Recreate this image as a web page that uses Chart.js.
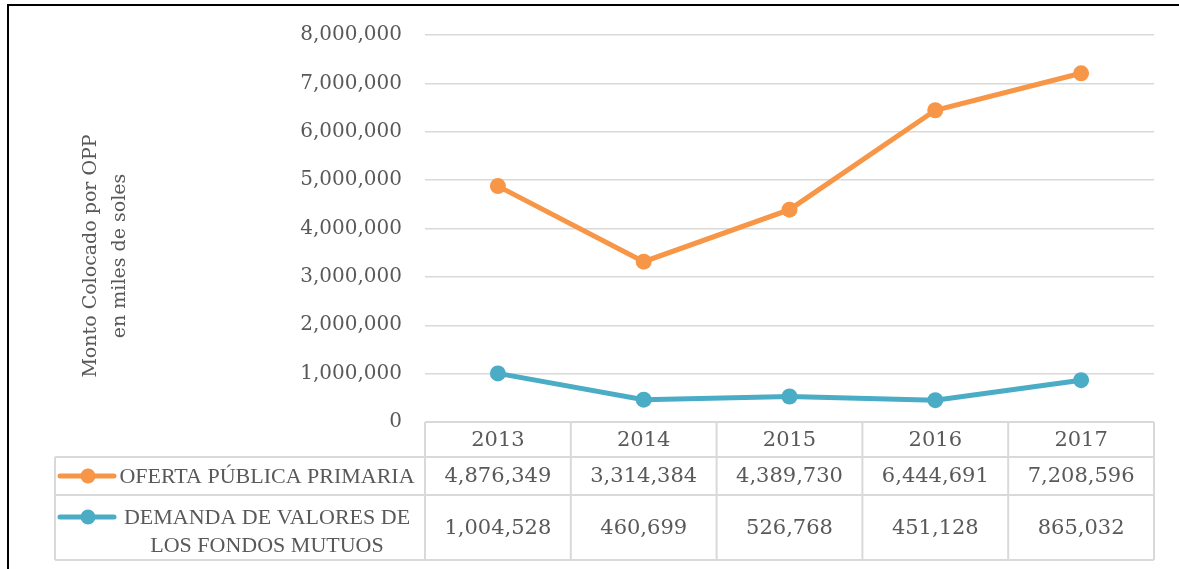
<!DOCTYPE html>
<html>
<head>
<meta charset="utf-8">
<script src="https://cdn.jsdelivr.net/npm/chart.js@4.4.1/dist/chart.umd.min.js"></script>
<style>
  html, body { margin: 0; padding: 0; background: #fff; }
  #wrap { position: relative; width: 1179px; height: 569px; overflow: hidden; }
  #wrap canvas { position: absolute; left: 0; top: 0; }
  #frame { position: absolute; left: 7px; top: 4px; width: 1200px; height: 600px;
           border-left: 2px solid #000; border-top: 2px solid #000; pointer-events: none; }
</style>
</head>
<body>
<div id="wrap">
  <canvas id="chart" width="1179" height="569"></canvas>
  <div id="frame"></div>
</div>
<script>
// Años y montos colocados (miles de soles)
const years = ['2013', '2014', '2015', '2016', '2017'];
const ofertaPublica = [4876349, 3314384, 4389730, 6444691, 7208596];
const demandaFondos = [1004528, 460699, 526768, 451128, 865032];
const seriesLabels = [['OFERTA PÚBLICA PRIMARIA'], ['DEMANDA DE VALORES DE', 'LOS FONDOS MUTUOS']];
const seriesColors = ['#F79646', '#4BACC6'];
const axisTitle = ['Monto Colocado por OPP', 'en miles de soles'];
const yMin = 0, yMax = 8000000, yStep = 1000000;

const textColor = '#595959';
const fmt = v => Number(v).toLocaleString('en-US');

// Vertical axis title, two centred lines
const axisTitlePlugin = {
  id: 'axisTitleLines',
  afterDraw(chart) {
    const ctx = chart.ctx;
    ctx.save();
    ctx.fillStyle = textColor;
    ctx.font = '19px "DejaVu Serif"';
    ctx.textAlign = 'center';
    ctx.textBaseline = 'middle';
    axisTitle.forEach((t, i) => {
      ctx.save();
      ctx.translate(91 + i * 29, 256);
      ctx.rotate(-Math.PI / 2);
      ctx.fillText(t, 0, 0);
      ctx.restore();
    });
    ctx.restore();
  }
};

// Data table under the plot: header with years, one row per series
const dataTablePlugin = {
  id: 'dataTable',
  afterDraw(chart) {
    const { ctx, chartArea: a, scales: { x } } = chart;
    const half = (x.getPixelForValue(1) - x.getPixelForValue(0)) / 2;
    const top = a.bottom, r1 = top + 35, r2 = top + 73, bot = top + 138;
    const labelLeft = 55;
    const line = (x1, y1, x2, y2) => { ctx.beginPath(); ctx.moveTo(x1, y1); ctx.lineTo(x2, y2); ctx.stroke(); };

    ctx.save();
    ctx.strokeStyle = '#d9d9d9';
    ctx.lineWidth = 2;
    line(a.left, top, a.right, top);
    line(labelLeft, r1, a.right, r1);
    line(labelLeft, r2, a.right, r2);
    line(labelLeft, bot, a.right, bot);
    line(labelLeft, r1, labelLeft, bot);
    years.forEach((_, i) => {
      const e = x.getPixelForValue(i) - half;
      line(e, top, e, bot);
    });
    line(a.right, top, a.right, bot);

    ctx.fillStyle = textColor;
    ctx.textAlign = 'center';
    ctx.textBaseline = 'middle';
    ctx.font = '21px "DejaVu Serif"';
    const rows = [ofertaPublica, demandaFondos];
    const rowMid = [(r1 + r2) / 2, (r2 + bot) / 2];
    years.forEach((yr, i) => {
      const cx = x.getPixelForValue(i);
      ctx.fillText(yr, cx, (top + r1) / 2 + 1);
      rows.forEach((vals, k) => ctx.fillText(fmt(vals[i]), cx, rowMid[k] + 1));
    });

    // Row labels with legend keys
    ctx.font = '22px "Liberation Serif"';
    const labelY = [[rowMid[0]], [r2 + 22, r2 + 50]];
    seriesLabels.forEach((lines, k) => {
      const ky = labelY[k][0];
      ctx.strokeStyle = seriesColors[k];
      ctx.lineWidth = 5;
      ctx.lineCap = 'round';
      line(60, ky, 114, ky);
      ctx.fillStyle = seriesColors[k];
      ctx.beginPath(); ctx.arc(88, ky, 7.5, 0, Math.PI * 2); ctx.fill();
      ctx.fillStyle = textColor;
      lines.forEach((t, j) => ctx.fillText(t, 267, labelY[k][j] + 1));
    });
    ctx.restore();
  }
};

new Chart(document.getElementById('chart'), {
  type: 'line',
  data: {
    labels: years,
    datasets: [
      { label: seriesLabels[0].join(' '), data: ofertaPublica, borderColor: seriesColors[0],
        backgroundColor: seriesColors[0], borderWidth: 5, pointRadius: 8, pointBorderWidth: 0,
        tension: 0 },
      { label: seriesLabels[1].join(' '), data: demandaFondos, borderColor: seriesColors[1],
        backgroundColor: seriesColors[1], borderWidth: 5, pointRadius: 8, pointBorderWidth: 0,
        tension: 0 }
    ]
  },
  options: {
    responsive: false,
    animation: false,
    layout: { padding: { top: 35, right: 25, bottom: 147, left: 0 } },
    plugins: { legend: { display: false }, tooltip: { enabled: false } },
    scales: {
      x: { type: 'category', offset: true, display: false },
      y: {
        min: yMin, max: yMax,
        ticks: { stepSize: yStep, padding: 23, color: textColor,
                 font: { family: 'DejaVu Serif', size: 20 }, callback: v => fmt(v) },
        grid: { color: '#d9d9d9', lineWidth: 1.5, drawTicks: false },
        border: { display: false },
        afterFit(scale) { scale.width = 425; }
      }
    }
  },
  plugins: [axisTitlePlugin, dataTablePlugin]
});
</script>
</body>
</html>
